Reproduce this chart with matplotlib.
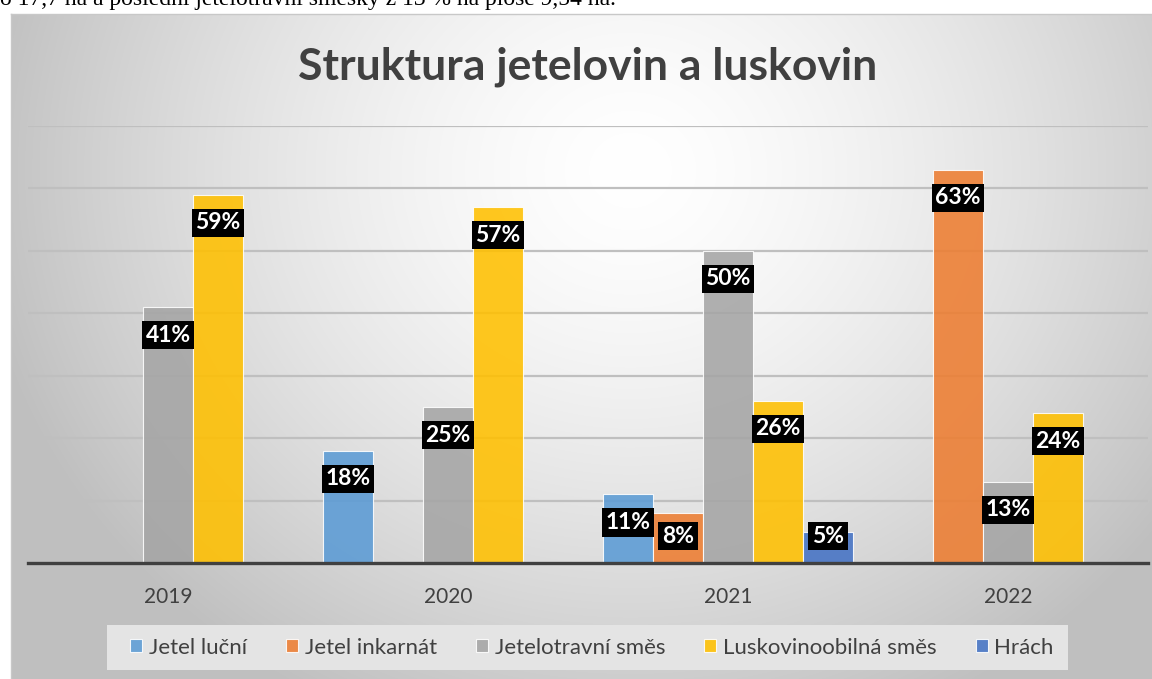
import matplotlib.pyplot as plt
from matplotlib.patches import Rectangle
import numpy as np

# data
years = ["2019", "2020", "2021", "2022"]
series = ["Jetel luční", "Jetel inkarnát", "Jetelotravní směs", "Luskovinoobilná směs", "Hrách"]
jetel_lucni = [0, 18, 11, 0]
jetel_inkarnat = [0, 0, 8, 63]
jetelotravni = [41, 25, 50, 13]
luskovinoobilna = [59, 57, 26, 24]
hrach = [0, 0, 5, 0]
values = [jetel_lucni, jetel_inkarnat, jetelotravni, luskovinoobilna, hrach]
colors = ["#5B9BD5", "#ED7D31", "#A5A5A5", "#FFC000", "#4472C4"]

W, H = 1152, 679
fig = plt.figure(figsize=(W / 100, H / 100), dpi=100)
fig.patch.set_facecolor("white")

# chart background: radial grey gradient inside a thin frame
bg = fig.add_axes([11 / W, 0, (W - 11) / W, (H - 14) / H], zorder=-5)
yy, xx = np.mgrid[14:H, 11:W]
d = np.sqrt(((xx - 630) / 660.0) ** 2 + ((yy - 170) / 600.0) ** 2)
shade = 1.0 - 0.25 * np.clip(d, 0, 1) ** 1.5
bg.imshow(np.dstack([shade] * 3), aspect="auto", extent=[0, 1, 0, 1])
bg.set_axis_off()
fig.add_artist(plt.Line2D([11 / W, 11 / W], [0, (H - 14) / H], color="#c8c8c8", lw=1))
fig.add_artist(plt.Line2D([11 / W, 1], [(H - 14) / H] * 2, color="#c8c8c8", lw=1))

# cut-off line of text from the page above the chart
fig.text(0, (H - 5) / H, "o 17,7 ha a poslední jetelotravní směsky z 13 % na ploše 9,54 ha.",
         family="Liberation Serif", fontsize=17, color="black", va="baseline", ha="left")

ax = fig.add_axes([28 / W, (H - 563) / H, 1120 / W, 437 / H])
ax.patch.set_alpha(0)
x = np.arange(len(years))
bw = 50 / 280
for i, (name, vals, c) in enumerate(zip(series, values, colors)):
    pos = x + (i - 2) * bw
    ax.bar(pos, vals, width=bw, color=c, alpha=0.88, edgecolor="white", linewidth=0.8,
           label=name, zorder=2)
    for p, v in zip(pos, vals):
        if v > 0:
            ax.text(p, max(v - 4.5, 4.3), f"{v}%", ha="center", va="center",
                    family="Lato", fontweight="bold", fontsize=16.5, color="white", zorder=4,
                    bbox=dict(boxstyle="square,pad=0.16", fc="black", ec="none"))

ax.set_xlim(-0.5, 3.5)
ax.set_ylim(0, 70)
ax.set_yticks(np.arange(10, 71, 10))
ax.yaxis.grid(True, color="#bfbfbf", lw=1.6, zorder=0)
ax.set_axisbelow(True)
ax.tick_params(axis="y", left=False, labelleft=False)
ax.tick_params(axis="x", bottom=False, pad=14)
ax.set_xticks(x)
ax.set_xticklabels(years, family="Lato", fontsize=15, color="#404040")
for s in ["top", "right", "left"]:
    ax.spines[s].set_visible(False)
ax.spines["bottom"].set_color("#404040")
ax.spines["bottom"].set_linewidth(2.4)
ax.spines["bottom"].set_zorder(3)

fig.text(588 / W, (H - 67) / H, "Struktura jetelovin a luskovin", ha="center", va="center",
         family="Lato", fontweight="bold", fontsize=32, color="#404040")

# legend box drawn separately for the wider side padding
fig.add_artist(Rectangle((107 / W, (H - 670) / H), 961 / W, 45 / H,
                         transform=fig.transFigure, fc="#e4e4e4", ec="none", zorder=1))
leg = fig.legend(loc="center", bbox_to_anchor=(592 / W, (H - 647.5) / H), ncol=5,
                 prop={"family": "Lato", "size": 16}, frameon=False,
                 handlelength=0.55, handleheight=0.55, handletextpad=0.3, columnspacing=1.75,
                 borderaxespad=0)
leg.set_zorder(2)
for t in leg.get_texts():
    t.set_color("#404040")

fig.savefig("out.png", dpi=100)
